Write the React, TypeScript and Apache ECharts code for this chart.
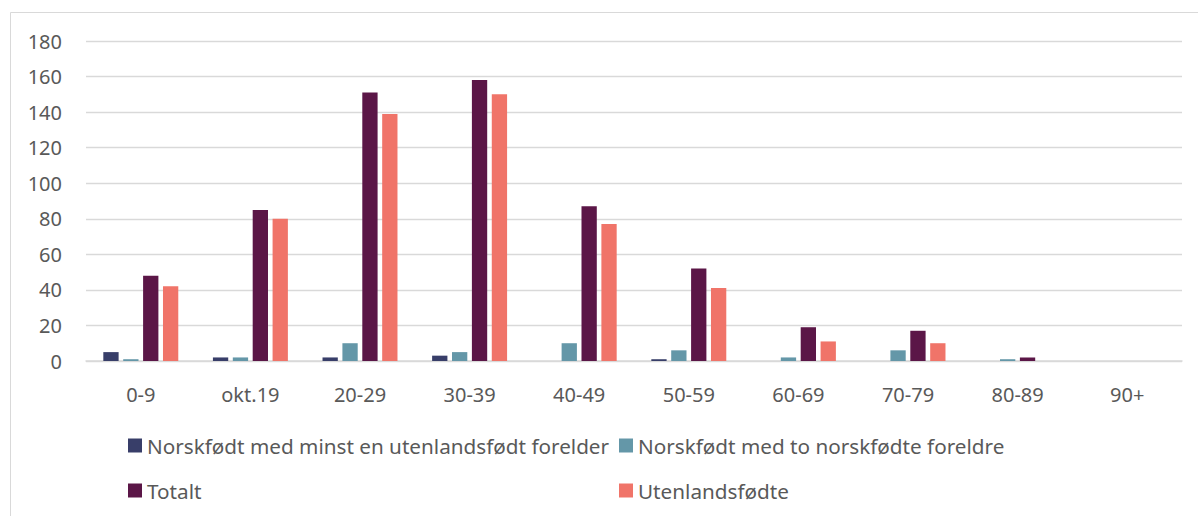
import React, { useEffect, useRef } from "react";
import * as echarts from "echarts";

const categories = ["0-9", "okt.19", "20-29", "30-39", "40-49", "50-59", "60-69", "70-79", "80-89", "90+"];
const seriesNames = [
  "Norskfødt med minst en utenlandsfødt forelder",
  "Norskfødt med to norskfødte foreldre",
  "Totalt",
  "Utenlandsfødte",
];
const norskMinstEn = [5, 2, 2, 3, 0, 1, 0, 0, 0, 0];
const norskToNorske = [1, 2, 10, 5, 10, 6, 2, 6, 1, 0];
const totalt = [48, 85, 151, 158, 87, 52, 19, 17, 2, 0];
const utenlandsfodte = [42, 80, 139, 150, 77, 41, 11, 10, 0, 0];
const colors = ["#383E69", "#6497A8", "#5B1647", "#F07469"];

const FONT = "'Noto Sans', sans-serif";
const TEXT = "#595959";

export default function App() {
  const ref = useRef<HTMLDivElement>(null);
  useEffect(() => {
    document.body.style.margin = "0";
    if (!ref.current) return;
    const chart = echarts.init(ref.current, undefined, { renderer: "svg" });
    const data = [norskMinstEn, norskToNorske, totalt, utenlandsfodte];
    const legendPos = [
      { left: 128, top: 435 },
      { left: 619, top: 435 },
      { left: 128, top: 480 },
      { left: 619, top: 480 },
    ];
    chart.setOption({
      animation: false,
      backgroundColor: "#ffffff",
      textStyle: { fontFamily: FONT },
      graphic: [
        {
          type: "rect",
          shape: { x: 10.5, y: 12.5, width: 1250, height: 600 },
          style: { fill: "none", stroke: "#d9d9d9", lineWidth: 1 },
          silent: true,
        },
      ],
      legend: seriesNames.map((n, i) => ({
        data: [n],
        left: legendPos[i].left,
        top: legendPos[i].top,
        icon: "rect",
        itemWidth: 14,
        itemHeight: 14,
        itemGap: 0,
        padding: 0,
        selectedMode: false,
        textStyle: { color: TEXT, fontSize: 20.7, fontFamily: FONT },
      })),
      grid: { left: 86, right: 16, top: 41, bottom: 155, containLabel: false },
      xAxis: {
        type: "category",
        data: categories,
        axisLine: { lineStyle: { color: "#d9d9d9", width: 1.5 } },
        axisTick: { show: false },
        axisLabel: { color: TEXT, fontSize: 20, fontFamily: FONT, margin: 23 },
      },
      yAxis: {
        type: "value",
        min: 0,
        max: 180,
        interval: 20,
        axisLine: { show: false },
        axisTick: { show: false },
        splitLine: { lineStyle: { color: "#d9d9d9", width: 1.3 } },
        axisLabel: { color: TEXT, fontSize: 20, fontFamily: FONT, margin: 24 },
      },
      series: seriesNames.map((n, i) => ({
        name: n,
        type: "bar",
        data: data[i],
        barWidth: 15.3,
        barGap: "30%",
        itemStyle: { color: colors[i] },
      })),
    });
    return () => chart.dispose();
  }, []);
  return <div ref={ref} style={{ width: 1198, height: 516 }} />;
}
